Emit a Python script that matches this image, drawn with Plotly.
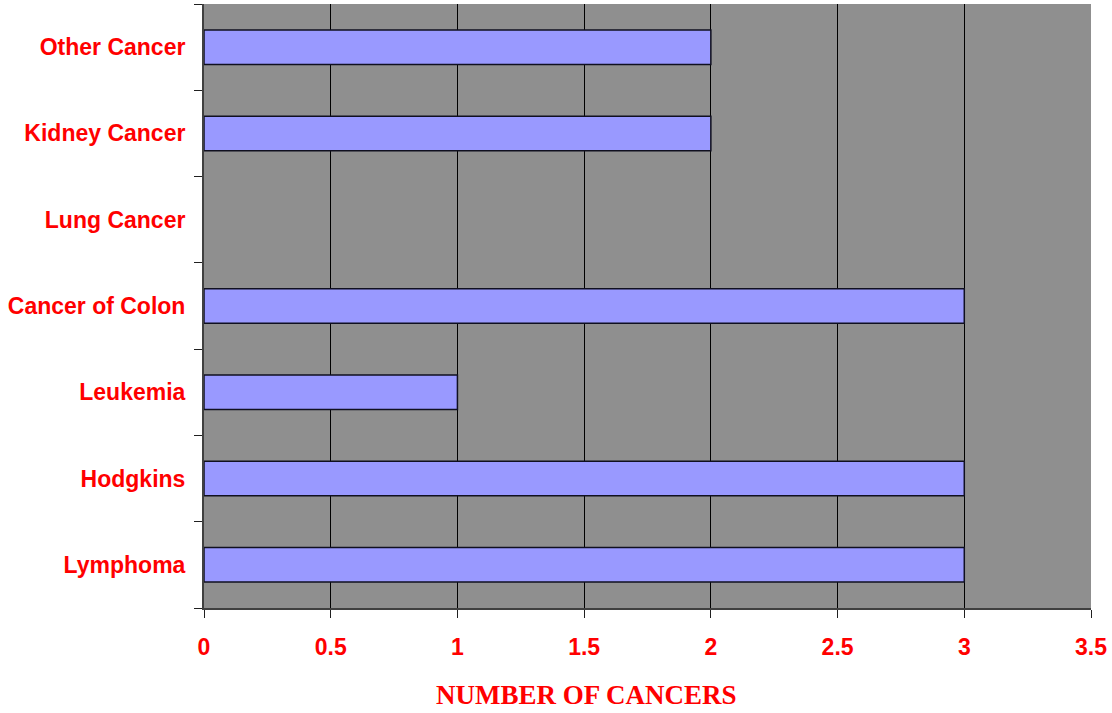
import plotly.graph_objects as go

categories = ["Lymphoma", "Hodgkins", "Leukemia", "Cancer of Colon",
              "Lung Cancer", "Kidney Cancer", "Other Cancer"]
counts = [3, 3, 1, 3, 0, 2, 2]
x_ticks = [0, 0.5, 1, 1.5, 2, 2.5, 3, 3.5]
x_tick_text = ["0", "0.5", "1", "1.5", "2", "2.5", "3", "3.5"]

RED = "#FF0000"
label_font = dict(family="Liberation Sans, Arial, sans-serif", size=23, color=RED)

# empty categories get no outline so no sliver is drawn at zero
outline_widths = [1.5 if v > 0 else 0 for v in counts]

fig = go.Figure(
    go.Bar(
        x=counts,
        y=categories,
        orientation="h",
        marker=dict(color="#9999FF", line=dict(color="#101020", width=outline_widths)),
        hoverinfo="x+y",
    )
)

fig.update_layout(
    width=1112,
    height=713,
    margin=dict(l=204, r=21, t=4, b=105),
    paper_bgcolor="white",
    plot_bgcolor="#8F8F8F",
    bargap=0.6,
    showlegend=False,
    xaxis=dict(
        range=[0, 3.5],
        tickmode="array",
        tickvals=x_ticks,
        ticktext=["<b>%s</b>" % t for t in x_tick_text],
        tickfont=label_font,
        showgrid=True,
        gridcolor="black",
        gridwidth=1,
        zeroline=False,
        showline=True,
        linecolor="#404040",
        linewidth=2,
        ticks="outside",
        ticklen=8,
        tickcolor="#202020",
        ticklabelstandoff=9,
    ),
    yaxis=dict(
        type="category",
        categoryorder="array",
        categoryarray=categories,
        tickmode="array",
        tickvals=categories,
        ticktext=["<b>%s</b>" % c for c in categories],
        tickfont=label_font,
        tickson="boundaries",
        ticks="outside",
        ticklen=8,
        tickcolor="#202020",
        showgrid=False,
        showline=True,
        linecolor="#404040",
        linewidth=2,
        ticklabelstandoff=12,
    ),
    annotations=[
        dict(
            text="<b>NUMBER OF CANCERS</b>",
            xref="paper",
            yref="paper",
            x=(586 - 204) / (1112 - 204 - 21),
            y=-(695 - 608) / (713 - 4 - 105),
            xanchor="center",
            yanchor="middle",
            showarrow=False,
            font=dict(family="Liberation Serif, Times New Roman, serif", size=27, color=RED),
        )
    ],
)

fig.write_html("out.html")
